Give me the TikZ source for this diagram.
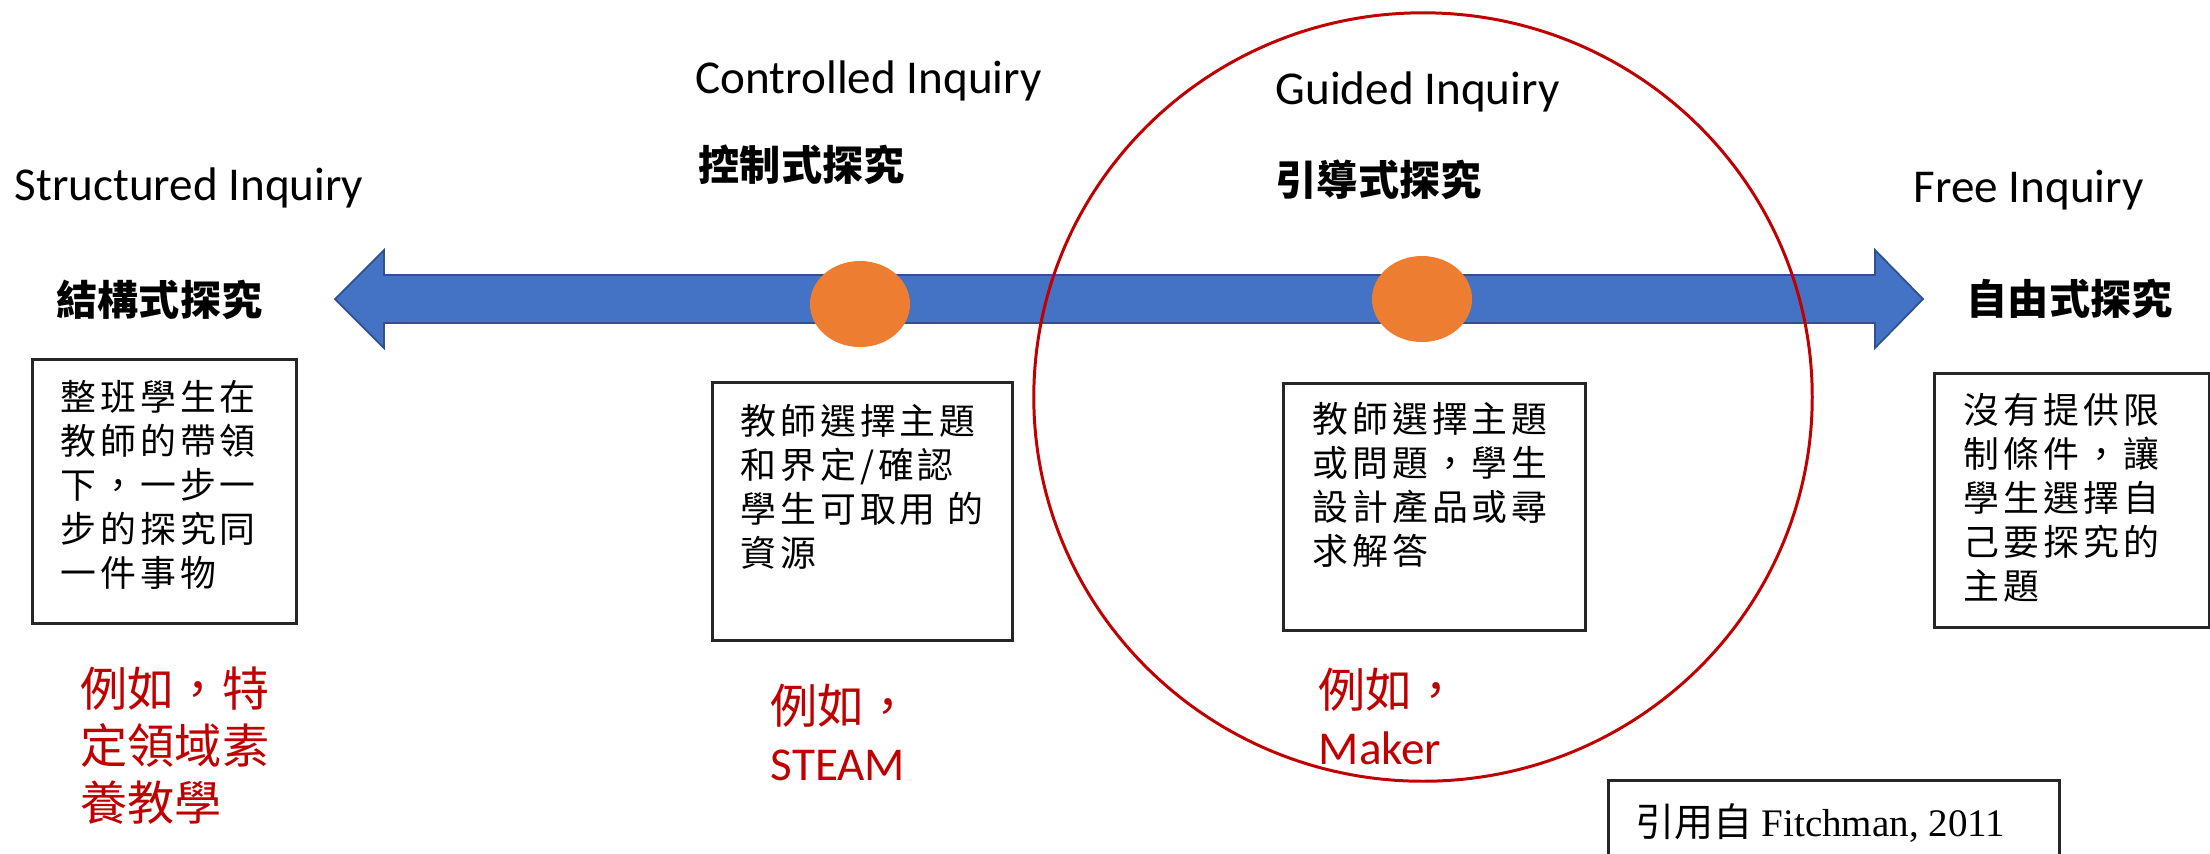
\documentclass[tikz,border=0pt]{standalone}
\usepackage{fontspec}
\setmainfont{Carlito}
\newfontfamily\cjk{Noto Sans CJK TC}
\newfontfamily\boxcjk{Noto Sans CJK TC}[LetterSpace=11]
\newfontfamily\citeserif{Liberation Serif}
\usetikzlibrary{shapes.geometric}
\definecolor{arrowblue}{HTML}{4472C4}
\definecolor{arrowedge}{HTML}{2F528F}
\definecolor{dotorange}{HTML}{ED7D31}
\definecolor{markred}{HTML}{C00000}
\begin{document}
\begin{tikzpicture}[x=0.01cm,y=-0.01cm,
 entitle/.style={anchor=base west, inner sep=0, font=\fontsize{13.4}{16}\selectfont},
 zhtitle/.style={anchor=west, inner sep=0, font=\cjk\bfseries\fontsize{11.7}{14}\selectfont},
 descbox/.style={draw=black!85, line width=0.75pt, inner sep=0, anchor=north west},
 desctext/.style={anchor=west, inner sep=0, align=left, font=\boxcjk\fontsize{10.2}{12.5}\selectfont},
 example/.style={anchor=west, inner sep=0, align=left, text=markred, font=\cjk\fontsize{13.4}{16.2}\selectfont},
 dot/.style={ellipse, fill=dotorange, minimum width=1.0cm, minimum height=0.86cm, inner sep=0},
]
\fill[white] (0,0) rectangle (2210,853);
\clip (0,0) rectangle (2210,853);

% main axis arrow
\draw[fill=arrowblue, draw=arrowedge, line width=0.5pt]
  (335,299) -- (384,250) -- (384,275) -- (1875,275) -- (1875,250) -- (1923,299)
  -- (1875,348) -- (1875,323) -- (384,323) -- (384,348) -- cycle;

\node[dot] (d1) at (860,304) {};
\node[dot] (d2) at (1422,299) {};

% titles
\node[entitle] (t1en) at (14,200) {Structured Inquiry};
\node[zhtitle] (t1zh) at (56,300) {結構式探究};
\node[entitle] (t2en) at (695,93) {Controlled Inquiry};
\node[zhtitle] (t2zh) at (698,165) {控制式探究};
\node[entitle] (t3en) at (1275,104) {Guided Inquiry};
\node[zhtitle] (t3zh) at (1275,180) {引導式探究};
\node[entitle] (t4en) at (1913,202) {Free Inquiry};
\node[zhtitle] (t4zh) at (1966,299) {自由式探究};

% description boxes
\node[descbox, minimum width=2.64cm, minimum height=2.64cm] (b1) at (31,358) {};
\node[descbox, minimum width=3.00cm, minimum height=2.58cm] (b2) at (711,381) {};
\node[descbox, minimum width=3.02cm, minimum height=2.47cm] (b3) at (1282,382) {};
\node[descbox, minimum width=2.75cm, minimum height=2.54cm] (b4) at (1933,372) {};

\node[desctext] (x1) at (60,485) {整班學生在\\教師的帶領\\下，一步一\\步的探究同\\一件事物};
\node[desctext] (x2) at (740,487) {教師選擇主題\\和界定/確認\\學生可取用 的\\資源};
\node[desctext] (x3) at (1312,485) {教師選擇主題\\或問題，學生\\設計產品或尋\\求解答};
\node[desctext] (x4) at (1963,498) {沒有提供限\\制條件，讓\\學生選擇自\\己要探究的\\主題};

% examples
\node[example] (e1) at (80,746) {例如，特\\定領域素\\養教學};
\node[example] (e2) at (770,732) {例如，\\{\rmfamily STEAM}};
\node[example] (e3) at (1318,716) {例如，\\{\rmfamily Maker}};

% citation
\node[descbox, minimum width=4.51cm, minimum height=1.0cm] (cb) at (1607,779) {};
\node[anchor=west, inner sep=0, font=\fontsize{11.1}{13}\selectfont] (cite) at (1635,823) {{\cjk 引用自} {\citeserif Fitchman, 2011}};

% highlight circle
\node[ellipse, draw=markred, line width=0.85pt, minimum width=7.78cm, minimum height=7.68cm, inner sep=0] (focus) at (1423,397) {};
\end{tikzpicture}
\end{document}
